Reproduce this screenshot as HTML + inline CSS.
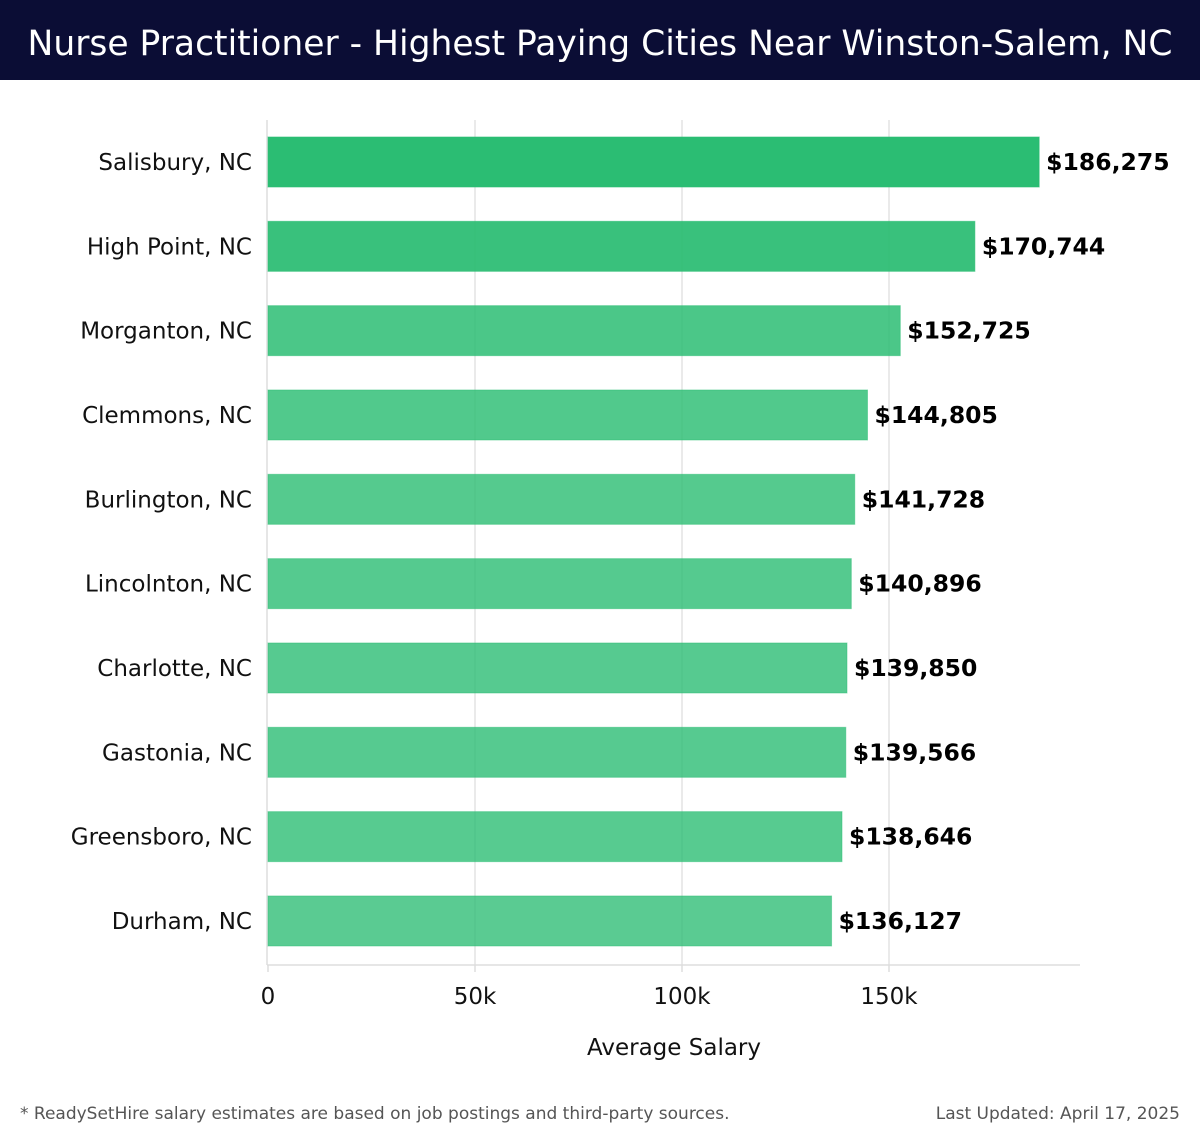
<!DOCTYPE html>
<html><head><meta charset="utf-8"><style>
body{margin:0;width:1200px;height:1140px;background:#fff;font-family:"DejaVu Sans","Liberation Sans",sans-serif;overflow:hidden}
#hdr{position:absolute;left:0;top:0;width:1200px;height:80px;background:#0b0d35;color:#fff;font-size:34.5px;line-height:88px;text-align:center;white-space:nowrap}
svg{position:absolute;left:0;top:0}
</style></head><body>
<div id="hdr">Nurse Practitioner - Highest Paying Cities Near Winston-Salem, NC</div>
<svg id="c" width="1200" height="1140"></svg>
<script>
const categories=["Salisbury, NC","High Point, NC","Morganton, NC","Clemmons, NC","Burlington, NC","Lincolnton, NC","Charlotte, NC","Gastonia, NC","Greensboro, NC","Durham, NC"];
const salaries=[186275,170744,152725,144805,141728,140896,139850,139566,138646,136127];
const valueLabels=["$186,275","$170,744","$152,725","$144,805","$141,728","$140,896","$139,850","$139,566","$138,646","$136,127"];
const tickValues=[0,50000,100000,150000];
const tickLabels=["0","50k","100k","150k"];
const svg=document.getElementById('c');const NS='http://www.w3.org/2000/svg';
const x0=268,pxPer=(889-268)/150000;
const x=v=>x0+v*pxPer;
const y=i=>162+i*84.33;
function mk(t,a,txt){const e=document.createElementNS(NS,t);for(const k in a)e.setAttribute(k,a[k]);if(txt!==undefined)e.textContent=txt;svg.appendChild(e);return e;}
tickValues.forEach((v,i)=>{
 if(i>0){const g=mk('line',{x1:x(v),x2:x(v),y1:120,y2:965,stroke:'#e3e3e3','stroke-width':1.5});
 }
 const t=mk('text',{x:x(v),y:1004,'text-anchor':'middle','font-size':23,fill:'#111'},tickLabels[i]);
 
 const tk=mk('line',{x1:x(v),x2:x(v),y1:965,y2:972,stroke:'#ccc','stroke-width':1});
 
});
const ax=mk('line',{x1:267,x2:267,y1:120,y2:965,stroke:'#ddd','stroke-width':1.5});

const bx=mk('line',{x1:267,x2:1080,y1:965,y2:965,stroke:'#ddd','stroke-width':1.5});

const mx=Math.max(...salaries),mn=Math.min(...salaries);
categories.forEach((c,i)=>{
 const v=salaries[i];const op=0.78+0.22*(v-mn)/(mx-mn);
 const b=mk('rect',{x:x0,y:y(i)-25,width:x(v)-x0,height:50,fill:'#2bbd73','fill-opacity':op,stroke:'#2bbd73','stroke-opacity':op*0.6});
 
 const l=mk('text',{x:252,y:y(i)+8,'text-anchor':'end','font-size':23,fill:'#111'},c);
 
 const vl=mk('text',{x:x(v)+7,y:y(i)+8,'font-size':23.5,'font-weight':'bold',fill:'#000'},valueLabels[i]);
 
});
const xt=mk('text',{x:674,y:1055,'text-anchor':'middle','font-size':23,fill:'#111'},'Average Salary');

const f1=mk('text',{x:20,y:1119,'font-size':17,fill:'#555'},'* ReadySetHire salary estimates are based on job postings and third-party sources.');

const f2=mk('text',{x:1180,y:1119,'text-anchor':'end','font-size':17,fill:'#555'},'Last Updated: April 17, 2025');

</script>
</body></html>
